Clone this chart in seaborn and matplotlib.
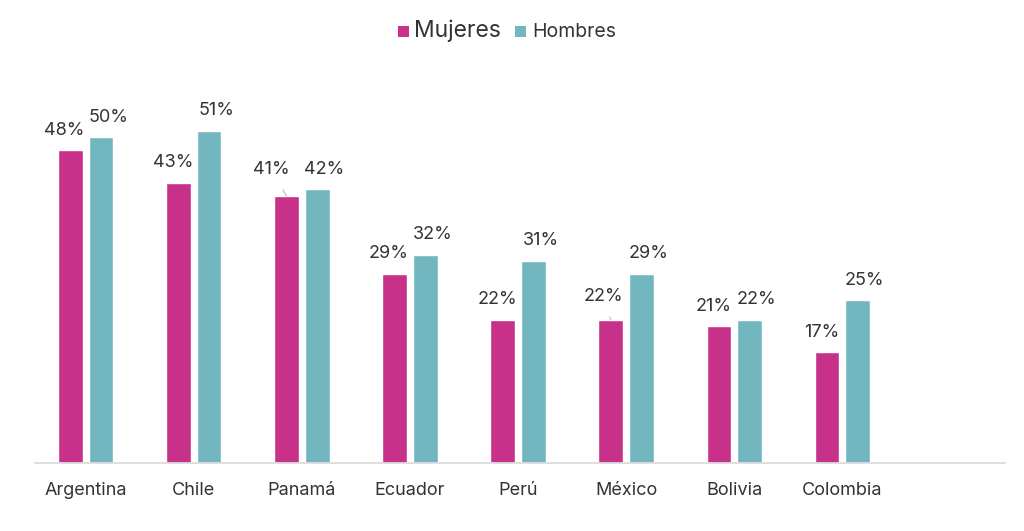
import pandas as pd
import seaborn as sns
import matplotlib.pyplot as plt
from matplotlib.patches import Patch

paises = ["Argentina", "Chile", "Panamá", "Ecuador", "Perú", "México", "Bolivia", "Colombia"]
mujeres = [48, 43, 41, 29, 22, 22, 21, 17]
hombres = [50, 51, 42, 32, 31, 29, 22, 25]
grupos = ["Mujeres", "Hombres"]
colores = ["#C7318A", "#72B7C0"]

df = pd.DataFrame({
    "pais": paises * 2,
    "grupo": ["Mujeres"] * len(paises) + ["Hombres"] * len(paises),
    "valor": mujeres + hombres,
})

sns.set_style("white")
plt.rcParams["font.family"] = ["Inter", "DejaVu Sans"]

fig = plt.figure(figsize=(10.24, 5.31), dpi=100)
ax = fig.add_axes([0.034, 0.128, 0.947, 0.736])

sns.barplot(data=df, x="pais", y="valor", hue="grupo", hue_order=grupos,
            palette=colores, width=0.57, gap=0.2, legend=False, ax=ax,
            saturation=1, errorbar=None)

ax.set_xlim(-0.47, 8.5)
ax.set_ylim(0, 60)
ax.set_xlabel("")
ax.set_ylabel("")
ax.set_yticks([])
for s in ["top", "right", "left"]:
    ax.spines[s].set_visible(False)
ax.spines["bottom"].set_color("#dcdcdc")
ax.spines["bottom"].set_linewidth(1.3)
ax.tick_params(axis="x", length=0, pad=14, labelsize=13, labelcolor="#333333")

# etiquetas de valor
off = 0.143
for i, (m, h) in enumerate(zip(mujeres, hombres)):
    for j, v in enumerate((m, h)):
        x = i + (-off if j == 0 else off)
        dx = -4 if j == 0 else 5
        dy = 14.5
        line = None
        if j == 0 and paises[i] == "Panamá":
            dx, dy, line = -11, 19, True
        if j == 0 and paises[i] == "México":
            dx, dy, line = -5, 17, True
        if line:
            ax.annotate(f"{v}%", xy=(x, v), xytext=(dx, dy), textcoords="offset points",
                        ha="center", va="center", fontsize=13, color="#333333",
                        arrowprops=dict(arrowstyle="-", color="#c8c8c8", lw=1,
                                        shrinkA=7, shrinkB=0))
        else:
            ax.annotate(f"{v}%", xy=(x, v), xytext=(dx, dy), textcoords="offset points",
                        ha="center", va="center", fontsize=13, color="#333333")

handles = [Patch(facecolor=c, edgecolor="none") for c in colores]
leg = fig.legend(handles, grupos, loc="center", bbox_to_anchor=(0.495, 0.943), ncol=2,
                 frameon=False, handlelength=0.8, handleheight=0.8, handletextpad=0.4,
                 columnspacing=1.0)
leg.get_texts()[0].set_fontsize(16.5)
leg.get_texts()[1].set_fontsize(14)
for t in leg.get_texts():
    t.set_color("#333333")

fig.savefig("out.png", dpi=100)
